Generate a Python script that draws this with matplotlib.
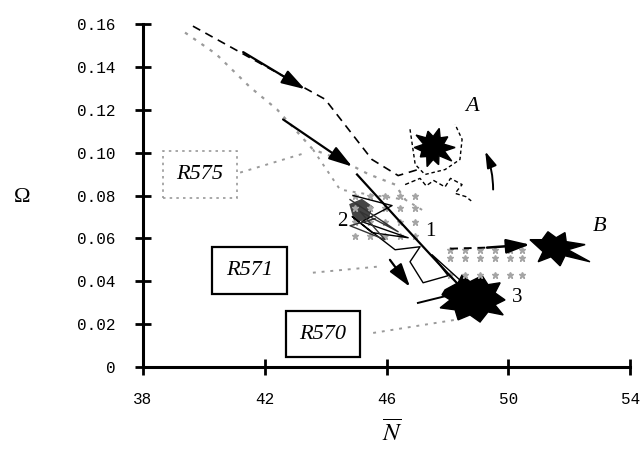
import matplotlib
matplotlib.use("Agg")
import matplotlib.pyplot as plt
from matplotlib.patches import Polygon

# ---------------- data ----------------
x_ticks = [38, 42, 46, 50, 54]
x_tick_labels = ["38", "42", "46", "50", "54"]
y_ticks = [0, 0.02, 0.04, 0.06, 0.08, 0.10, 0.12, 0.14, 0.16]
y_tick_labels = ["0", "0.02", "0.04", "0.06", "0.08", "0.10", "0.12", "0.14", "0.16"]

# black dashed trajectory (towards A)
dashA_x = [39.64, 43.98, 45.52, 46.38, 47.03]
dashA_y = [0.159, 0.1249, 0.0968, 0.0893, 0.0921]
dashA_arrow_x = [41.29, 43.32]
dashA_arrow_y = [0.1469, 0.1296]
# dashed scribbles below A
scribA_x = [46.61, 47.10, 47.30, 47.55, 47.92, 48.10, 48.48, 48.25, 48.60, 48.78]
scribA_y = [0.0851, 0.0880, 0.0845, 0.0870, 0.0840, 0.0880, 0.0851, 0.0810, 0.0795, 0.0775]
ringA_x = [46.77, 46.94, 47.26, 47.92, 48.41, 48.48, 48.25]
ringA_y = [0.1109, 0.0945, 0.0898, 0.0921, 0.0968, 0.1062, 0.1132]
# cluster A outline
clA_x = [48.25, 47.87, 48.01, 47.76, 47.73, 47.53, 47.36, 47.30, 46.97, 47.22,
         46.91, 47.16, 47.11, 47.32, 47.33, 47.53, 47.71, 47.72, 48.14, 47.90]
clA_y = [0.1024, 0.1040, 0.1074, 0.1069, 0.1113, 0.1075, 0.1100, 0.1069, 0.1082, 0.1039,
         0.1024, 0.1007, 0.0980, 0.0982, 0.0935, 0.0968, 0.0944, 0.0986, 0.0961, 0.1007]
# curved arrow near A
curveA_x = [49.50, 49.24]
curveA_y = [0.0828, 0.1006]

# gray dotted trajectory (R575)
r575_x = [39.38, 40.40, 41.52, 42.40, 43.58, 44.47, 45.40, 46.28, 46.61]
r575_y = [0.156, 0.146, 0.1305, 0.1202, 0.1015, 0.0968, 0.0900, 0.0851, 0.0781]
r575_hood_x = [43.58, 44.47, 45.40, 46.61, 47.20]
r575_hood_y = [0.1015, 0.0828, 0.0805, 0.0781, 0.0730]
grid1_x = [44.96, 45.46, 45.95, 46.44, 46.94]
grid1_y = [0.0800, 0.0744, 0.0678, 0.0613]
grid2_x = [48.09, 48.58, 49.07, 49.57, 50.06, 50.45]
grid2_y = [0.0547, 0.0510, 0.0430]

# solid black trajectory (R571)
sol_arrow_x = [42.60, 44.87]
sol_arrow_y = [0.1155, 0.0935]
sol_x = [45.03, 46.44, 47.99, 48.74]
sol_y = [0.0898, 0.0678, 0.0440, 0.0327]
# jagged lines around points 1 and 2
jag1_x = [44.90, 46.18, 45.19, 46.71, 45.52, 44.87, 46.28, 47.10, 46.77, 47.20, 48.02, 47.49, 48.58]
jag1_y = [0.0800, 0.0753, 0.0678, 0.0603, 0.0627, 0.0702, 0.0547, 0.0561, 0.0491, 0.0393, 0.0426, 0.0524, 0.0384]
jag2_x = [44.80, 46.38, 45.13, 45.95, 44.80, 45.62]
jag2_y = [0.0781, 0.0631, 0.0725, 0.0594, 0.0659, 0.0692]
blob2_x = [44.80, 45.19, 45.52, 45.39, 44.96]
blob2_y = [0.0758, 0.0781, 0.0748, 0.0692, 0.0678]
arrow1_x = [46.11, 46.77]
arrow1_y = [0.0500, 0.0374]
# cluster 3
cl3_x = [47.92, 48.35, 48.48, 48.74, 49.14, 49.33, 49.73, 49.56, 49.89, 49.56, 49.83, 49.33, 49.07, 48.74, 48.35, 48.25, 47.76, 48.09, 47.82]
cl3_y = [0.0360, 0.0393, 0.0430, 0.0398, 0.0426, 0.0384, 0.0393, 0.0346, 0.0313, 0.0290, 0.0243, 0.0257, 0.0210, 0.0243, 0.0220, 0.0267, 0.0276, 0.0313, 0.0337]
spike3_x = [47.03, 48.20]
spike3_y = [0.0299, 0.0340]

# dashed arrow to B
dashB_x = [48.09, 49.30]
dashB_y = [0.0552, 0.0557]
dashB_arrow_x = [49.30, 50.71]
dashB_arrow_y = [0.0557, 0.0571]
clB_x = [50.71, 51.11, 51.30, 51.57, 51.86, 51.90, 52.52, 51.96, 52.68, 51.86, 51.70, 51.40, 50.98, 51.14]
clB_y = [0.0594, 0.0594, 0.0631, 0.0603, 0.0627, 0.0585, 0.0571, 0.0547, 0.0491, 0.0519, 0.0472, 0.0514, 0.0491, 0.0538]

# run labels and connector lines
run_names = ["R575", "R571", "R570"]
run_pos_x = [39.87, 41.50, 43.91]
run_pos_y = [0.0898, 0.0449, 0.0154]
conn_x = [[41.19, 43.39], [43.58, 45.69], [45.56, 48.25]]
conn_y = [[0.0907, 0.1001], [0.0440, 0.0468], [0.0159, 0.0220]]

point_labels = ["A", "B", "1", "2", "3"]
point_x = [48.81, 53.00, 47.43, 44.54, 50.29]
point_y = [0.1216, 0.0655, 0.0630, 0.0680, 0.0323]

# ---------------- figure ----------------
fig = plt.figure(figsize=(6.43, 4.53), dpi=100)
ax = fig.add_axes([0.2224, 0.1898, 0.7576, 0.7572])
ax.set_xlim(38, 54)
ax.set_ylim(0, 0.16)
for s in ["top", "right"]:
    ax.spines[s].set_visible(False)
for s in ["left", "bottom"]:
    ax.spines[s].set_linewidth(2.2)
ax.set_xticks(x_ticks)
ax.set_xticklabels(x_tick_labels)
ax.set_yticks(y_ticks)
ax.set_yticklabels(y_tick_labels)
ax.tick_params(direction="inout", length=12, width=2)
ax.tick_params(axis="y", pad=14)
ax.tick_params(axis="x", pad=12)
for lab in ax.get_xticklabels() + ax.get_yticklabels():
    lab.set_fontfamily("Liberation Mono")
    lab.set_fontsize(11.5)

gray = "#9a9a9a"


def arrow(x0, y0, x1, y1, lw=1.6, rad=0.0, ms=22):
    ax.annotate("", xy=(x1, y1), xytext=(x0, y0),
                arrowprops=dict(arrowstyle="-|>,head_length=0.65,head_width=0.2",
                                color="k", lw=lw, mutation_scale=ms,
                                shrinkA=0, shrinkB=0,
                                connectionstyle="arc3,rad=%s" % rad))


# gray R575 trajectory
ax.plot(r575_x, r575_y, ls=(0, (1.5, 3)), color=gray, lw=1.6)
ax.plot(r575_hood_x, r575_hood_y, ls=(0, (1.5, 3)), color=gray, lw=1.4)
for gy in grid1_y:
    ax.plot(grid1_x, [gy] * len(grid1_x), ls="none", marker="*", ms=5, color="#a5a5a5")
for gy in grid2_y:
    ax.plot(grid2_x, [gy] * len(grid2_x), ls="none", marker="*", ms=5, color="#a5a5a5")

# black dashed trajectory towards A
ax.plot(dashA_x, dashA_y, ls=(0, (5, 3.5)), color="k", lw=1.2)
arrow(dashA_arrow_x[0], dashA_arrow_y[0], dashA_arrow_x[1], dashA_arrow_y[1])
ax.plot(scribA_x, scribA_y, ls=(0, (3, 2)), color="k", lw=1.0)
ax.plot(ringA_x, ringA_y, ls=(0, (2.5, 2)), color="k", lw=1.0)
ax.add_patch(Polygon(list(zip(clA_x, clA_y)), closed=True, facecolor="k", edgecolor="k", lw=1))
arrow(curveA_x[0], curveA_y[0], curveA_x[1], curveA_y[1], lw=1.4, rad=0.1, ms=15)

# solid trajectory
arrow(sol_arrow_x[0], sol_arrow_y[0], sol_arrow_x[1], sol_arrow_y[1])
ax.plot(sol_x, sol_y, color="k", lw=1.6)
ax.plot(jag1_x, jag1_y, color="k", lw=1.0)
ax.plot(jag2_x, jag2_y, color="#333333", lw=1.0)
ax.add_patch(Polygon(list(zip(blob2_x, blob2_y)), closed=True, facecolor="#444444", edgecolor="#444444", lw=1))
arrow(arrow1_x[0], arrow1_y[0], arrow1_x[1], arrow1_y[1])
ax.add_patch(Polygon(list(zip(cl3_x, cl3_y)), closed=True, facecolor="k", edgecolor="k", lw=1))
ax.plot(spike3_x, spike3_y, color="k", lw=1.4)

# dashed arrow to B
ax.plot(dashB_x, dashB_y, ls=(0, (4, 3)), color="k", lw=1.4)
arrow(dashB_arrow_x[0], dashB_arrow_y[0], dashB_arrow_x[1], dashB_arrow_y[1], lw=1.8)
ax.add_patch(Polygon(list(zip(clB_x, clB_y)), closed=True, facecolor="k", edgecolor="k", lw=1))

# run labels
for i, name in enumerate(run_names):
    ax.plot(conn_x[i], conn_y[i], ls=(0, (1.5, 3)), color=gray, lw=1.4)
    if name == "R575":
        bb = dict(boxstyle="square,pad=0.62", facecolor="white", edgecolor=gray, lw=1.2, ls=(0, (1.5, 2.5)))
    else:
        bb = dict(boxstyle="square,pad=0.62", facecolor="white", edgecolor="k", lw=1.6)
    ax.text(run_pos_x[i], run_pos_y[i], name, ha="center", va="center", fontsize=16,
            family="Liberation Serif", style="italic", bbox=bb)

for lab, px, py in zip(point_labels, point_x, point_y):
    italic = lab in ("A", "B")
    ax.text(px, py, lab, ha="center", va="center", fontsize=16 if italic else 15,
            family="Liberation Serif", style="italic" if italic else "normal")

# axis labels
fig.text(0.034, 0.565, "Ω", ha="center", va="center", fontsize=16, family="Liberation Serif")
plt.rcParams["mathtext.fontset"] = "stix"
fig.text(0.61, 0.045, r"$\overline{N}$", ha="center", va="center", fontsize=18)

fig.savefig("out.png", dpi=100)
